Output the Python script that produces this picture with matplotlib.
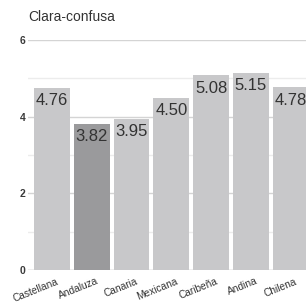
import matplotlib
matplotlib.use("Agg")
import matplotlib.pyplot as plt
from matplotlib.ticker import MultipleLocator
from matplotlib.transforms import ScaledTranslation

plt.rcParams["font.family"] = ["Liberation Sans", "DejaVu Sans"]

categories = ["Castellana", "Andaluza", "Canaria", "Mexicana", "Caribeña", "Andina", "Chilena"]
values = [4.76, 3.82, 3.95, 4.50, 5.08, 5.15, 4.78]
highlight = "Andaluza"
title = "Clara-confusa"

fig = plt.figure(figsize=(3.06, 3.06), dpi=100)
ax = fig.add_axes([0.0915, 0.1176, 0.937, 0.7516])

colors = ["#9a9a9c" if c == highlight else "#c8c8ca" for c in categories]
x = list(range(len(categories)))
ax.bar(x, values, width=0.9, color=colors, zorder=2)

for xi, v in zip(x, values):
    ax.text(xi, v - 0.15, f"{v:.2f}", ha="center", va="top", fontsize=12,
            color="#333333", zorder=3)

ax.set_xlim(-0.603, 6.603)
ax.set_ylim(0, 6)
ax.yaxis.set_major_locator(MultipleLocator(2))
ax.yaxis.set_minor_locator(MultipleLocator(1))
ax.grid(axis="y", which="major", color="#d4d4d4", linewidth=1.0, zorder=0)
ax.grid(axis="y", which="minor", color="#ececec", linewidth=1.0, zorder=0)
ax.set_axisbelow(True)
for s in ax.spines.values():
    s.set_visible(False)
ax.axhline(0, color="#cfcfcf", linewidth=1.0, zorder=1)

ax.tick_params(axis="y", which="both", length=0, pad=2, labelsize=7.5, labelcolor="#3a3a3a")
for lbl in ax.get_yticklabels():
    lbl.set_fontweight("bold")
ax.set_xticks(x)
ax.set_xticklabels(categories, rotation=22, ha="right", rotation_mode="anchor",
                   fontsize=7.3, color="#333333")
ax.tick_params(axis="x", length=0, pad=3)
offset = ScaledTranslation(4 / 100, -2 / 100, fig.dpi_scale_trans)
for lbl in ax.get_xticklabels():
    lbl.set_transform(lbl.get_transform() + offset)

fig.text(28 / 306, 1 - 17 / 306, title, fontsize=10, color="#333333", ha="left", va="center")

fig.savefig("out.png", dpi=100)
